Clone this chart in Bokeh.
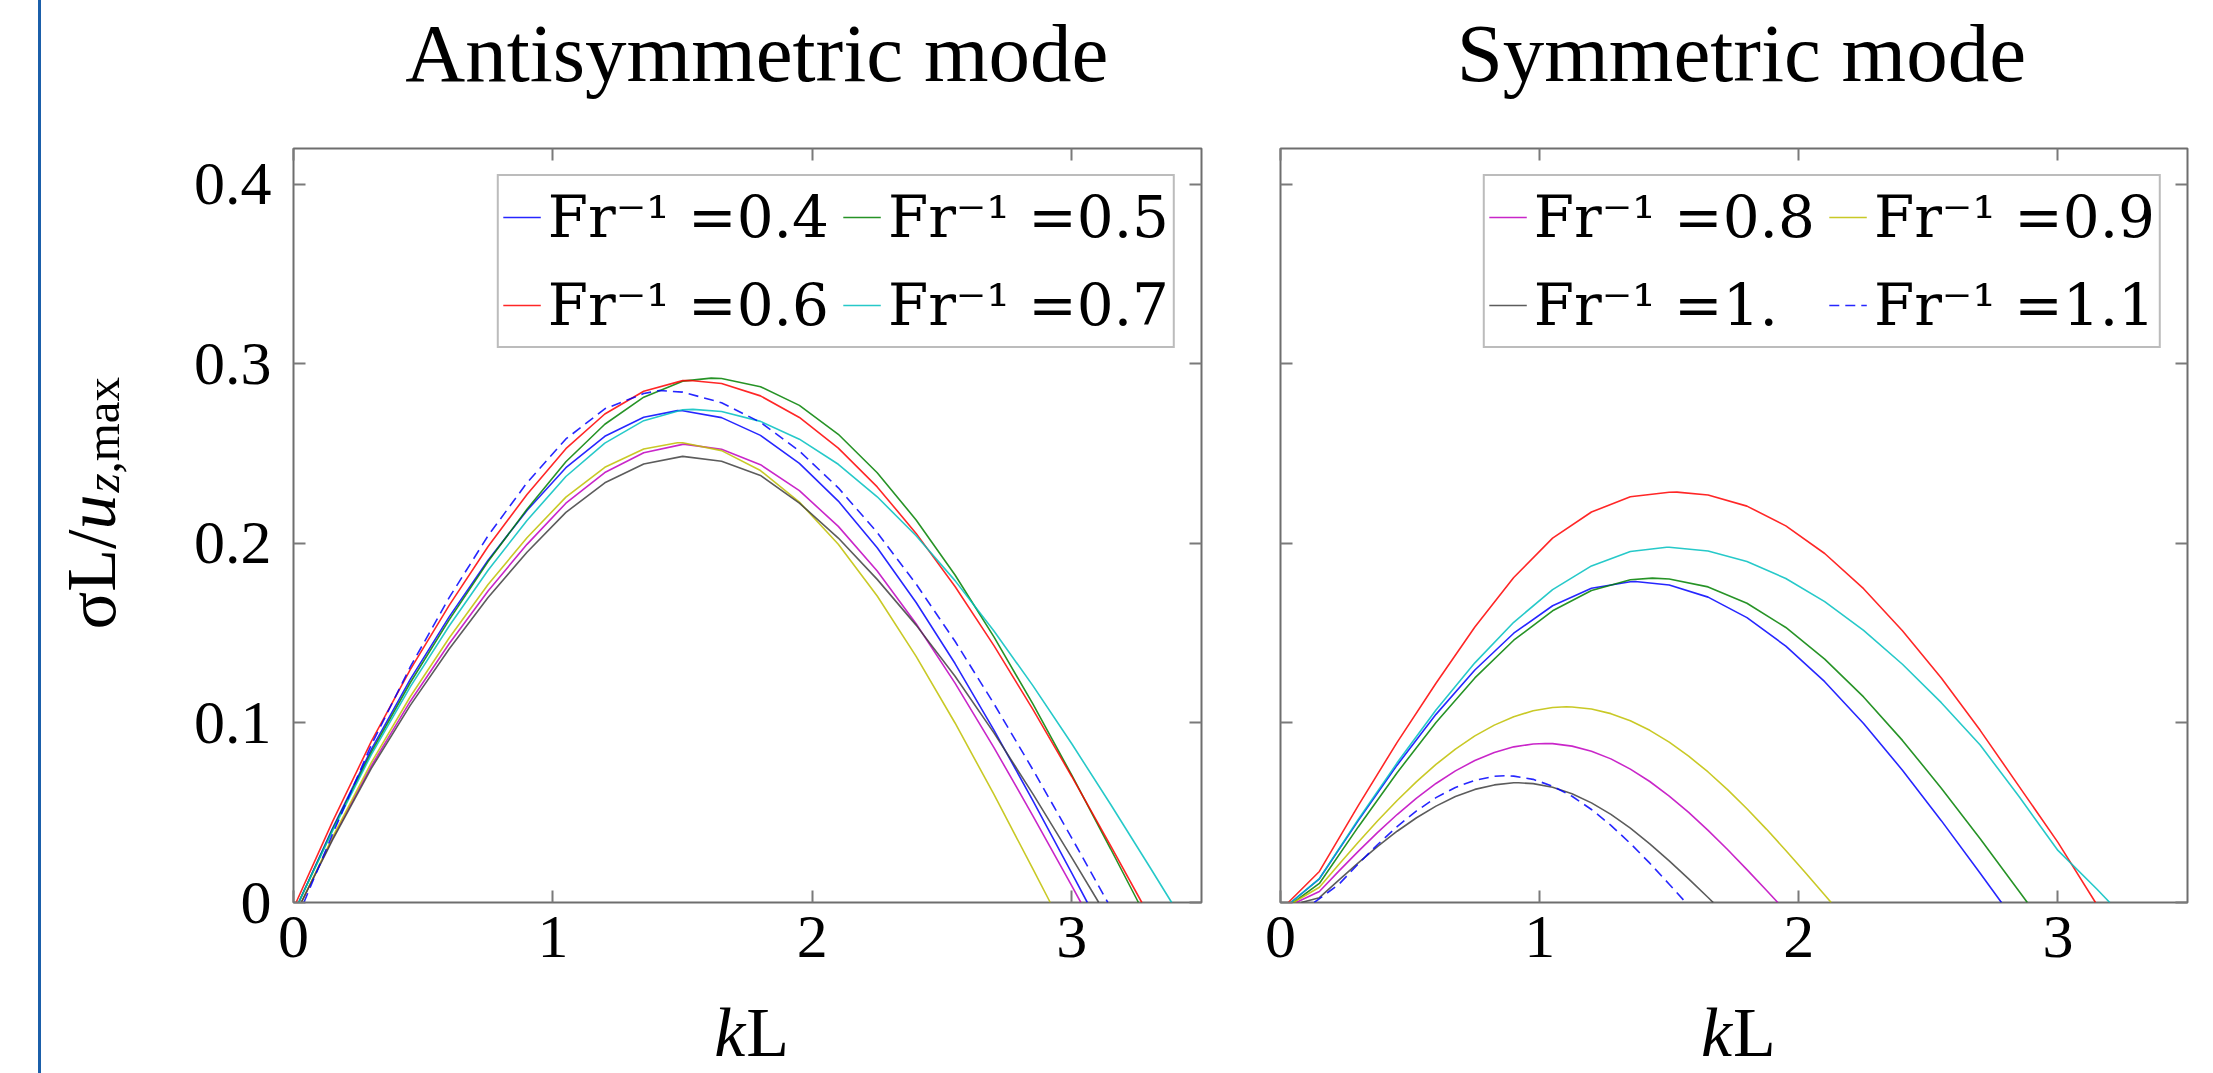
import math
from bokeh.plotting import figure
from bokeh.models import (Legend, LegendItem, LinearAxis, FixedTicker, Div, Spacer, Range1d)
from bokeh.layouts import row, column
from bokeh.core.properties import value
from bokeh.embed import file_html
from bokeh.resources import INLINE

# ---------------------------------------------------------------- data
fr_labels = ["0.4", "0.5", "0.6", "0.7", "0.8", "0.9", "1.", "1.1"]
line_colors = ["#0000ff", "#008000", "#ff0000", "#00bfbf",
               "#bf00bf", "#bfbf00", "#404040", "#0000ff"]
line_dashes = ["solid"] * 7 + ["10 6"]

x_ticks = [0, 1, 2, 3]
x_tick_labels = ["0", "1", "2", "3"]
y_ticks = [0, 0.1, 0.2, 0.3, 0.4]
y_tick_labels = ["0", "0.1", "0.2", "0.3", "0.4"]

kL_grid = [0.15, 0.30, 0.45, 0.60, 0.75, 0.90, 1.05, 1.20, 1.35, 1.50, 1.65,
           1.80, 1.95, 2.10, 2.25, 2.40, 2.55, 2.70, 2.85, 3.00, 3.15, 3.30]
kL_mid = [0.225, 0.375, 0.525, 0.675, 0.825, 0.975, 1.125, 1.275, 1.425, 1.575,
          1.725, 1.875, 2.025]

# Antisymmetric mode (left panel)
anti_start = [0.02, 0.02, 0.01, 0.02, 0.03, 0.03, 0.03, 0.04]
anti_peak_kL = [1.48, 1.61, 1.53, 1.54, 1.51, 1.48, 1.50, 1.41]
anti_peak_sigma = [0.274, 0.2921, 0.2908, 0.2747, 0.2552, 0.2561, 0.2485, 0.2852]
anti_end = [3.06, 3.257, 3.27, 3.385, 3.035, 2.917, 3.104, 3.139]
anti_fr04 = [0.0412, 0.0853, 0.1243, 0.1591, 0.1907, 0.2184, 0.2422, 0.2597, 0.2703, 0.2739,
             0.2701, 0.2602, 0.2446, 0.2236, 0.1976, 0.1671, 0.1331, 0.0960, 0.0568, 0.0163]
anti_fr05 = [0.0404, 0.0838, 0.1224, 0.1574, 0.1899, 0.2191, 0.2455, 0.2664, 0.2815, 0.2904,
             0.2919, 0.2873, 0.2769, 0.2608, 0.2394, 0.2131, 0.1824, 0.1480, 0.1106, 0.0709, 0.0298]
anti_fr06 = [0.0449, 0.0898, 0.1297, 0.1655, 0.1983, 0.2273, 0.2528, 0.2721, 0.2848, 0.2907,
             0.2891, 0.2822, 0.2702, 0.2531, 0.2315, 0.2056, 0.1760, 0.1431, 0.1076, 0.0702, 0.0315]
anti_fr07 = [0.0398, 0.0824, 0.1201, 0.1540, 0.1851, 0.2128, 0.2373, 0.2559, 0.2684, 0.2745,
             0.2735, 0.2680, 0.2581, 0.2441, 0.2260, 0.2043, 0.1793, 0.1512, 0.1208, 0.0884,
             0.0546, 0.0199]
anti_fr08 = [0.0354, 0.0761, 0.1120, 0.1441, 0.1735, 0.1995, 0.2224, 0.2395, 0.2505, 0.2552,
             0.2525, 0.2439, 0.2294, 0.2095, 0.1846, 0.1553, 0.1222, 0.0863, 0.0483, 0.0092]
anti_fr09 = [0.0362, 0.0779, 0.1146, 0.1473, 0.1771, 0.2032, 0.2258, 0.2424, 0.2526, 0.2561,
             0.2517, 0.2406, 0.2230, 0.1996, 0.1707, 0.1371, 0.1000, 0.0602, 0.0187]
anti_fr10 = [0.0348, 0.0747, 0.1098, 0.1412, 0.1699, 0.1951, 0.2173, 0.2338, 0.2443, 0.2485,
             0.2458, 0.2379, 0.2225, 0.2030, 0.1800, 0.1545, 0.1260, 0.0945, 0.0605, 0.0250]
anti_fr11 = [0.0379, 0.0878, 0.1312, 0.1698, 0.2043, 0.2338, 0.2582, 0.2750, 0.2835, 0.2843,
             0.2784, 0.2675, 0.2515, 0.2310, 0.2061, 0.1774, 0.1455, 0.1107, 0.0740, 0.0359]

# Symmetric mode (right panel)
sym_start = [0.04, 0.05, 0.03, 0.04, 0.06, 0.05, 0.08, 0.13]
sym_peak_kL = [1.369, 1.435, 1.53, 1.49, 1.021, 1.103, 0.919, 0.87]
sym_peak_sigma = [0.1788, 0.1807, 0.2286, 0.1979, 0.0886, 0.1090, 0.0667, 0.0706]
sym_end = [2.782, 2.882, 3.145, 3.20, 1.919, 2.125, 1.670, 1.564]
sym_fr04 = [0.0132, 0.0456, 0.0765, 0.1048, 0.1295, 0.1500, 0.1653, 0.1750, 0.1787, 0.1769,
            0.1701, 0.1587, 0.1428, 0.1230, 0.0997, 0.0737, 0.0456, 0.0163]
sym_fr05 = [0.0106, 0.0421, 0.0723, 0.1003, 0.1251, 0.1461, 0.1625, 0.1738, 0.1798, 0.1802,
            0.1758, 0.1667, 0.1532, 0.1356, 0.1145, 0.0903, 0.0637, 0.0355, 0.0063]
sym_fr06 = [0.0173, 0.0540, 0.0892, 0.1221, 0.1535, 0.1810, 0.2030, 0.2175, 0.2260, 0.2285,
            0.2270, 0.2208, 0.2098, 0.1944, 0.1748, 0.1514, 0.1250, 0.0959, 0.0647, 0.0335]
sym_fr07 = [0.0133, 0.0462, 0.0778, 0.1072, 0.1335, 0.1561, 0.1743, 0.1875, 0.1955, 0.1979,
            0.1958, 0.1899, 0.1805, 0.1676, 0.1516, 0.1327, 0.1113, 0.0877, 0.0590, 0.0290, 0.0075]
sym_fr08 = [0.0061, 0.0285, 0.0490, 0.0663, 0.0791, 0.0867, 0.0885, 0.0843, 0.0743, 0.0593,
            0.0402, 0.0183]
sym_fr09 = [0.0085, 0.0336, 0.0568, 0.0769, 0.0928, 0.1035, 0.1086, 0.1078, 0.1012, 0.0893,
            0.0727, 0.0522, 0.0290, 0.0042]
sym_fr10 = [0.0027, 0.0221, 0.0397, 0.0537, 0.0630, 0.0667, 0.0642, 0.0555, 0.0414, 0.0232,
            0.0028]
sym_fr11 = [None, 0.0215, 0.0423, 0.0584, 0.0681, 0.0704, 0.0648, 0.0518, 0.0329, 0.0102]
# extra readings between grid points for the narrow symmetric-mode curves
sym_fr08_mid = [0.0175, 0.0391, 0.0581, 0.0733, 0.0836, 0.0883, 0.0871, 0.0800, 0.0674,
                0.0502, 0.0295, 0.0068]
sym_fr09_mid = [0.0212, 0.0455, 0.0673, 0.0854, 0.0988, 0.1068, 0.1089, 0.1052, 0.0959,
                0.0815, 0.0629, 0.0409, 0.0167]
sym_fr10_mid = [0.0125, 0.0313, 0.0472, 0.0590, 0.0655, 0.0662, 0.0606, 0.0491, 0.0327,
                0.0132]
sym_fr11_mid = [0.0101, 0.0323, 0.0510, 0.0641, 0.0703, 0.0686, 0.0592, 0.0430, 0.0219]

anti_series = [anti_fr04, anti_fr05, anti_fr06, anti_fr07, anti_fr08, anti_fr09, anti_fr10, anti_fr11]
sym_series = [sym_fr04, sym_fr05, sym_fr06, sym_fr07, sym_fr08, sym_fr09, sym_fr10, sym_fr11]
anti_mid = [[]] * 8
sym_mid = [[], [], [], [], sym_fr08_mid, sym_fr09_mid, sym_fr10_mid, sym_fr11_mid]

# ---------------------------------------------------------------- layout constants
FONT = "Liberation Serif"
LEGEND_FONT = "DejaVu Serif"
GRAY = "#6e6e6e"
TOTAL_H = 1073
TITLE_H = 140
MAIN_TOP = 8
FRAME_H = 754
MAIN_BOTTOM = 96
MAIN_H = MAIN_TOP + FRAME_H + MAIN_BOTTOM
XLAB_OVERLAP = 35
XLAB_H = TOTAL_H - TITLE_H - MAIN_H + XLAB_OVERLAP
YLAB_W = 139
YLAB_OVERLAP = 120


def curve_points(start, pk, pv, end, vals, mids):
    pts = [(start, 0.0), (pk, pv), (end, 0.0)]
    pts += [(g, v) for g, v in zip(kL_grid, vals)
            if v is not None and start < g < end and abs(g - pk) > 1e-9]
    pts += [(g, v) for g, v in zip(kL_mid, mids)
            if v is not None and start < g < end and abs(g - pk) > 1e-9]
    pts.sort()
    return [a for a, _ in pts], [b for _, b in pts]


def make_axis(ticks, labels, show):
    ax = LinearAxis(ticker=FixedTicker(ticks=ticks))
    ax.axis_line_color = None
    ax.major_tick_in = 12
    ax.major_tick_out = 0
    ax.major_tick_line_color = "#7a7a7a"
    ax.major_tick_line_width = 2
    ax.minor_tick_line_color = None
    if show:
        ax.major_label_overrides = dict(zip(ticks, labels))
        ax.major_label_text_font = FONT
        ax.major_label_text_font_size = "62px"
        ax.major_label_text_color = "black"
    else:
        ax.major_label_overrides = {t: "" for t in ticks}
        ax.major_label_text_font_size = "0px"
        ax.major_label_standoff = 0
    return ax


def text_fig(width, height, transparent=False, margin=0):
    f = figure(width=width, height=height,
               x_range=Range1d(0, width), y_range=Range1d(0, height),
               output_backend="svg", toolbar_location=None,
               x_axis_type=None, y_axis_type=None, margin=margin,
               min_border_left=0, min_border_right=0, min_border_top=0, min_border_bottom=0)
    f.outline_line_color = None
    f.background_fill_color = "white"
    f.border_fill_color = "white"
    if transparent:
        f.background_fill_alpha = 0.0
        f.border_fill_alpha = 0.0
    return f


def put_text(f, txt, x, y, size, style="normal", align="left", angle=0.0):
    f.text(x=[x], y=[y], text=[txt], text_font=value(FONT),
           text_font_size=f"{size}px", text_font_style=style,
           text_align=align, text_baseline="alphabetic",
           text_color="black", angle=angle)


def make_panel(title, starts, pks, pvs, ends, series, mids, legend_idx, left_panel):
    if left_panel:
        bl, fw, br = 113, 908, 10
        title_cx, junction = 526, 513
    else:
        bl, fw, br = 69, 907, 14
        title_cx, junction = 503, 493
    width = bl + fw + br

    p = figure(width=width, height=MAIN_H,
               x_range=Range1d(0, 3.5), y_range=Range1d(0, 0.42),
               output_backend="svg", toolbar_location=None,
               x_axis_type=None, y_axis_type=None,
               min_border_left=bl, min_border_right=br,
               min_border_top=MAIN_TOP, min_border_bottom=MAIN_BOTTOM)
    p.background_fill_color = "white"
    p.border_fill_color = "white"
    p.outline_line_color = GRAY
    p.outline_line_width = 2

    xb = make_axis(x_ticks, x_tick_labels, True)
    xb.major_label_standoff = 14
    p.add_layout(xb, "below")
    yl = make_axis(y_ticks, y_tick_labels, left_panel)
    if left_panel:
        yl.major_label_standoff = 22
    p.add_layout(yl, "left")
    p.add_layout(make_axis(x_ticks, x_tick_labels, False), "above")
    p.add_layout(make_axis(y_ticks, y_tick_labels, False), "right")

    renderers = []
    for i in range(8):
        xs, ys = curve_points(starts[i], pks[i], pvs[i], ends[i], series[i], mids[i])
        r = p.line(xs, ys, line_color=line_colors[i], line_width=1.6,
                   line_alpha=0.85, line_dash=line_dashes[i])
        renderers.append(r)

    items = [LegendItem(label="Fr\u207b\u00b9 =" + fr_labels[i], renderers=[renderers[i]])
             for i in legend_idx]
    legend = Legend(items=items, location="top_right", orientation="horizontal", ncols=2,
                    label_text_font=LEGEND_FONT, label_text_font_size="58px",
                    label_text_color="black",
                    label_height=74, glyph_height=74, glyph_width=38,
                    label_standoff=7, spacing=14, padding=4, margin=26,
                    border_line_color="#7a7a7a", border_line_width=2,
                    background_fill_color="white", background_fill_alpha=1.0)
    p.add_layout(legend)

    # title strip above the frame
    t = text_fig(width, TITLE_H)
    put_text(t, title, title_cx, 88, 83, align="center")

    # x-axis label strip below the frame (transparent, slightly overlapping):  k L
    xl = text_fig(width, XLAB_H, transparent=True, margin=(-XLAB_OVERLAP, 0, 0, 0))
    put_text(xl, "k", junction, 41, 70, style="italic", align="right")
    put_text(xl, "L", junction + 1, 41, 70, align="left")

    return column(t, p, xl, spacing=0)


col_left = make_panel("Antisymmetric mode", anti_start, anti_peak_kL, anti_peak_sigma,
                      anti_end, anti_series, anti_mid, [0, 1, 2, 3], True)
col_left.margin = (0, 0, 0, -YLAB_OVERLAP)
col_right = make_panel("Symmetric mode", sym_start, sym_peak_kL, sym_peak_sigma,
                       sym_end, sym_series, sym_mid, [4, 5, 6, 7], False)

# y-axis label strip:  sigma L / u_{z,max}  (rotated)
yl_fig = text_fig(YLAB_W + YLAB_OVERLAP, TOTAL_H)
a = math.pi / 2
base_x, y0 = 50, 444
put_text(yl_fig, "\u03c3L/", base_x, y0, 70, angle=a)
put_text(yl_fig, "u", base_x, y0 + 100, 70, style="italic", angle=a)
put_text(yl_fig, "z", base_x + 11, y0 + 137, 49, style="italic", angle=a)
put_text(yl_fig, ",max", base_x + 11, y0 + 156, 49, angle=a)

bar = Div(width=3, height=TOTAL_H, margin=0, styles={"background-color": "#1b5faa"})
lay = row(Spacer(width=38, height=TOTAL_H, margin=0), bar, yl_fig, col_left, col_right,
          spacing=0)

open("out.html", "w").write(file_html(lay, INLINE))
